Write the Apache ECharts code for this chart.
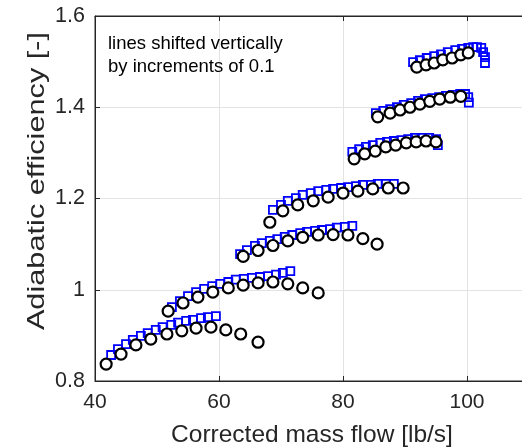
<!DOCTYPE html>
<html><head><meta charset="utf-8">
<script src="https://cdn.jsdelivr.net/npm/echarts@6/dist/echarts.min.js"></script>
<style>html,body{margin:0;padding:0;background:#fff}#c{width:522px;height:447px}</style>
</head><body><div id="c"></div>
<script>
// Axis setup
const xTicks = [40, 60, 80, 100];
const yTicks = [0.8, 1, 1.2, 1.4, 1.6];
const xTitle = 'Corrected mass flow [lb/s]';
const yTitle = 'Adiabatic efficiency [-]';
const note = 'lines shifted vertically\nby increments of 0.1';

// Black circles (one array per speed line) [mass flow, efficiency]
const circ1 = [[41.8,0.837],[44.2,0.859],[46.6,0.879],[49.0,0.892],[51.6,0.903],[54.0,0.910],[56.3,0.916],[58.7,0.918],[61.1,0.912],[63.5,0.903],[66.3,0.885]];
const circ2 = [[51.8,0.953],[54.2,0.971],[56.6,0.984],[59.0,0.995],[61.5,1.004],[63.9,1.010],[66.3,1.015],[68.7,1.017],[71.1,1.013],[73.5,1.004],[76.0,0.993]];
const circ3 = [[63.9,1.073],[66.3,1.086],[68.7,1.097],[71.1,1.107],[73.5,1.115],[76.0,1.120],[78.4,1.121],[80.8,1.120],[83.2,1.112],[85.5,1.100]];
const circ4 = [[68.2,1.148],[70.3,1.173],[72.7,1.186],[75.2,1.195],[77.6,1.203],[80.0,1.212],[82.4,1.216],[84.8,1.221],[87.3,1.223],[89.7,1.223]];
const circ5 = [[81.8,1.287],[83.5,1.298],[85.2,1.304],[86.9,1.313],[88.5,1.317],[90.2,1.322],[91.8,1.324],[93.4,1.326],[95.0,1.324]];
const circ6 = [[85.6,1.379],[87.6,1.387],[89.2,1.394],[90.8,1.400],[92.4,1.407],[94.0,1.413],[95.6,1.418],[97.3,1.422],[99.0,1.424]];
const circ7 = [[91.9,1.488],[93.4,1.493],[94.7,1.497],[96.1,1.504],[97.6,1.508],[99.0,1.515],[100.2,1.519]];

// Blue squares
const sq1 = [[42.6,0.857],[43.7,0.870],[45.0,0.881],[46.1,0.890],[47.4,0.899],[48.5,0.905],[49.8,0.912],[50.9,0.918],[52.3,0.923],[53.4,0.928],[54.7,0.932],[55.8,0.934],[57.1,0.938],[58.2,0.940],[59.5,0.942]];
const sq2 = [[52.4,0.962],[53.7,0.975],[55.0,0.986],[56.3,0.995],[57.6,1.002],[58.9,1.008],[60.2,1.013],[61.5,1.017],[62.7,1.022],[64.0,1.024],[65.3,1.026],[66.6,1.028],[67.9,1.030],[69.2,1.033],[70.3,1.037],[71.5,1.041]];
const sq3 = [[63.4,1.078],[64.5,1.087],[65.8,1.096],[66.9,1.102],[68.2,1.107],[69.4,1.111],[70.6,1.116],[71.8,1.120],[73.1,1.124],[74.2,1.127],[75.5,1.129],[76.6,1.131],[77.9,1.133],[79.0,1.136],[80.3,1.138],[81.5,1.140]];
const sq4 = [[68.7,1.175],[70.0,1.186],[71.1,1.195],[72.4,1.201],[73.5,1.208],[74.8,1.212],[76.0,1.216],[77.3,1.219],[78.4,1.221],[79.7,1.223],[80.8,1.225],[82.1,1.227],[83.2,1.230],[84.5,1.230],[85.6,1.232],[86.9,1.232],[88.2,1.232]];
const sq5 = [[81.5,1.302],[82.6,1.308],[83.7,1.313],[84.8,1.317],[86.0,1.322],[87.1,1.324],[88.2,1.326],[89.4,1.328],[90.5,1.330],[91.6,1.333],[92.7,1.333],[93.9,1.333],[95.0,1.330],[95.3,1.317]];
const sq6 = [[85.3,1.387],[86.5,1.392],[87.6,1.396],[88.7,1.400],[89.8,1.405],[91.0,1.409],[92.1,1.414],[93.2,1.418],[94.4,1.420],[95.5,1.422],[96.6,1.425],[97.7,1.427],[98.9,1.429],[99.7,1.429],[100.2,1.422],[100.3,1.410]];
const sq7 = [[91.3,1.499],[92.4,1.503],[93.5,1.508],[94.7,1.512],[95.8,1.516],[96.9,1.521],[98.1,1.525],[99.2,1.528],[100.2,1.530],[101.0,1.532],[101.6,1.532],[102.3,1.530],[102.6,1.521],[102.9,1.510],[102.9,1.497]];

const circles = [circ1, circ2, circ3, circ4, circ5, circ6, circ7];
const squares = [sq1, sq2, sq3, sq4, sq5, sq6, sq7];

const FONT = 'Liberation Sans, Arial, sans-serif';
const TXT = '#262626';
const chart = echarts.init(document.getElementById('c'), null, {renderer: 'canvas'});

const series = [];
squares.forEach((d, i) => series.push({
  type: 'scatter', name: 'sq' + (i + 1), data: d, symbol: 'rect', symbolSize: 8, z: 2,
  itemStyle: {color: 'rgba(0,0,0,0)', borderColor: '#0000ff', borderWidth: 1.8, opacity: 1},
  emphasis: {disabled: true}
}));
circles.forEach((d, i) => series.push({
  type: 'scatter', name: 'c' + (i + 1), data: d, symbol: 'circle', symbolSize: 11, z: 3,
  itemStyle: {color: '#ffffff', borderColor: '#000000', borderWidth: 2.2, opacity: 1},
  emphasis: {disabled: true}
}));

chart.setOption({
  animation: false,
  backgroundColor: '#ffffff',
  grid: {left: 95, top: 16, width: 434, height: 365, containLabel: false, outerBoundsMode: 'none',
    show: true, borderColor: TXT, borderWidth: 1, backgroundColor: 'transparent'},
  xAxis: [{
    type: 'value', min: 40, max: 110, interval: 20,
    name: xTitle, nameLocation: 'middle', nameGap: 42,
    nameTextStyle: {fontFamily: FONT, fontSize: 24.5, color: TXT},
    axisLine: {show: true, lineStyle: {color: TXT, width: 1}},
    axisTick: {show: true, inside: true, length: 5, lineStyle: {color: TXT}},
    axisLabel: {fontFamily: FONT, fontSize: 21, color: TXT, margin: 11, showMaxLabel: false,
      formatter: v => xTicks.includes(v) ? String(v) : ''},
    splitLine: {show: true, lineStyle: {color: '#e3e3e3', width: 1}}
  }, {
    type: 'value', min: 40, max: 110, interval: 20, position: 'top',
    axisLine: {show: true, lineStyle: {color: TXT}},
    axisTick: {show: true, inside: true, length: 5, lineStyle: {color: TXT}},
    axisLabel: {show: false}, splitLine: {show: false}
  }],
  yAxis: [{
    type: 'value', min: 0.8, max: 1.6, interval: 0.2,
    axisLine: {show: true, lineStyle: {color: TXT, width: 1}},
    axisTick: {show: true, inside: true, length: 5, lineStyle: {color: TXT}},
    axisLabel: {fontFamily: FONT, fontSize: 21.5, color: TXT, margin: 10,
      formatter: v => {const r = Math.round(v * 10) / 10; return yTicks.includes(r) ? String(r) : '';}},
    splitLine: {show: true, lineStyle: {color: '#e3e3e3', width: 1}}
  }],
  graphic: [{
    type: 'text', left: 108, top: 32, z: 10,
    style: {text: note, fontFamily: FONT, fontSize: 18.5, lineHeight: 23.5, fill: '#000000'}
  }, {
    type: 'text', x: 37, y: 181, rotation: Math.PI / 2, scaleX: 1.28, z: 10,
    style: {text: yTitle, fontFamily: FONT, fontSize: 24, fill: TXT, align: 'center', verticalAlign: 'middle'}
  }],
  series: series
});
</script></body></html>
